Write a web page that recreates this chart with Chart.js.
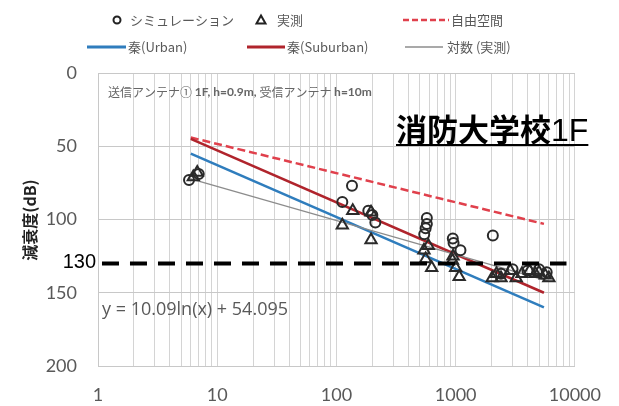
<!DOCTYPE html>
<html>
<head>
<meta charset="utf-8">
<script src="https://cdn.jsdelivr.net/npm/chart.js@4/dist/chart.umd.min.js"></script>
<style>
  html, body { margin: 0; padding: 0; background: #ffffff; }
  #wrap { width: 619px; height: 406px; position: relative; }
</style>
</head>
<body>
<div id="wrap"><canvas id="c" width="619" height="406"></canvas></div>
<script>
// Distance (m) and attenuation (dB) values
const simX  = [5.8, 7.0, 135, 112, 185, 200, 212, 573, 573, 560, 545, 946, 960, 1097, 2050, 2400, 3000, 4000, 5000, 5800];
const simY  = [73, 69, 77, 88, 94, 97, 102, 99, 103, 106, 110, 113, 116, 121, 111, 137, 134, 135, 134, 136];
const measX = [6.3, 6.8, 112, 137, 195, 195, 542, 590, 560, 629, 950, 940, 1000, 1070, 2025, 2200, 2400, 2870, 3220, 3600, 4170, 4660, 5000, 5630, 6050];
const measY = [71, 68, 104, 94, 95, 114, 121, 118, 127, 133, 125, 128, 133, 139, 140, 137, 140, 135, 140, 137, 135, 137, 136, 138, 140];

// Model curves (end points; straight on a log distance axis)
const modelX     = [6, 5500];
const freeSpaceY = [44, 103];
const urbanY     = [55, 160];
const suburbanY  = [45, 150];

// Logarithmic fit of the measurements
const trendX = [5.8, 6000];
const trendY = [72, 142];

// Threshold line
const limitX = [1.08, 8500];
const limitY = [130, 130];

// Axis tick labels
const xTickValues = [1, 10, 100, 1000, 10000];
const xTickLabels = ['1', '10', '100', '1000', '10000'];
const yTickValues = [0, 50, 100, 150, 200];

const pts = (xs, ys) => xs.map((x, i) => ({ x: x, y: ys[i] }));

const JP = '"Noto Sans CJK JP", "Noto Sans", sans-serif';
const NUM = 'Lato, "Open Sans", sans-serif';

const overlay = {
  id: 'overlay',
  afterDraw(chart) {
    const ctx = chart.ctx;
    ctx.save();
    ctx.textBaseline = 'middle';
    ctx.textAlign = 'left';

    // legend
    const r1 = 20, r2 = 47;
    ctx.font = '13px ' + JP;
    ctx.fillStyle = '#595959';
    ctx.strokeStyle = '#222';
    ctx.lineWidth = 2;
    ctx.beginPath(); ctx.arc(117, r1, 3.5, 0, Math.PI * 2); ctx.stroke();
    ctx.fillText('シミュレーション', 130, r1);
    ctx.beginPath();
    ctx.moveTo(261, r1 - 4.5); ctx.lineTo(265.5, r1 + 3.5); ctx.lineTo(256.5, r1 + 3.5); ctx.closePath();
    ctx.stroke();
    ctx.fillText('実測', 277, r1);
    ctx.strokeStyle = '#e0404c'; ctx.lineWidth = 2.5; ctx.setLineDash([6, 3]);
    ctx.beginPath(); ctx.moveTo(403, r1); ctx.lineTo(449, r1); ctx.stroke();
    ctx.setLineDash([]);
    ctx.fillText('自由空間', 451, r1);

    ctx.strokeStyle = '#2f7dbd'; ctx.lineWidth = 3;
    ctx.beginPath(); ctx.moveTo(87, r2); ctx.lineTo(126, r2); ctx.stroke();
    ctx.fillText('秦(Urban)', 128, r2);
    ctx.strokeStyle = '#b0242c';
    ctx.beginPath(); ctx.moveTo(247, r2); ctx.lineTo(285, r2); ctx.stroke();
    ctx.fillText('秦(Suburban)', 287, r2);
    ctx.strokeStyle = '#8c8c8c'; ctx.lineWidth = 1.5;
    ctx.beginPath(); ctx.moveTo(405, r2); ctx.lineTo(443, r2); ctx.stroke();
    ctx.fillText('対数 (実測)', 447, r2);

    // y axis title
    ctx.save();
    ctx.translate(30, 220);
    ctx.rotate(-Math.PI / 2);
    ctx.textAlign = 'center';
    ctx.fillStyle = '#222';
    ctx.font = 'bold 16px ' + JP;
    ctx.fillText('減衰度(dB)', 0, 0);
    ctx.restore();

    // antenna conditions
    const parts = [
      ['送信アンテナ① ', '12px ' + JP],
      ['1F, h=0.9m, ', 'bold 12px ' + NUM],
      ['受信アンテナ ', '12px ' + JP],
      ['h=10m', 'bold 12px ' + NUM]
    ];
    let x = 108;
    ctx.fillStyle = '#666';
    parts.forEach(p => {
      ctx.font = p[1];
      ctx.fillText(p[0], x, 92);
      x += ctx.measureText(p[0]).width;
    });

    // site name
    ctx.fillStyle = '#000';
    ctx.textBaseline = 'alphabetic';
    ctx.font = 'bold 31px ' + JP;
    const a = '消防大学校';
    ctx.fillText(a, 396, 141);
    const wa = ctx.measureText(a).width;
    ctx.font = '32px "Liberation Sans", Arial, sans-serif';
    ctx.fillText('1F', 396 + wa, 141);
    const wb = ctx.measureText('1F').width;
    ctx.fillRect(396, 144, wa + wb, 2);

    // threshold label
    ctx.textBaseline = 'middle';
    ctx.textAlign = 'right';
    ctx.font = '20px "Liberation Sans", Arial, sans-serif';
    ctx.fillText('130', 96, 262);

    // fit equation
    ctx.textAlign = 'left';
    ctx.fillStyle = '#595959';
    ctx.font = '18px "Open Sans", Lato, sans-serif';
    ctx.fillText('y = 10.09ln(x) + 54.095', 102, 310);

    ctx.restore();
  }
};

new Chart(document.getElementById('c'), {
  type: 'scatter',
  data: {
    datasets: [
      { label: 'limit', data: pts(limitX, limitY), showLine: true, borderColor: '#000', borderWidth: 4,
        borderDash: [17, 11], pointRadius: 0, fill: false },
      { label: 'シミュレーション', data: pts(simX, simY), pointStyle: 'circle', pointRadius: 5,
        borderColor: '#2a2a2a', backgroundColor: 'rgba(0,0,0,0)', borderWidth: 2, showLine: false },
      { label: '実測', data: pts(measX, measY), pointStyle: 'triangle', pointRadius: 6.5,
        borderColor: '#2a2a2a', backgroundColor: 'rgba(0,0,0,0)', borderWidth: 2, showLine: false },
      { label: '対数 (実測)', data: pts(trendX, trendY), showLine: true, borderColor: '#8c8c8c', borderWidth: 1.3,
        pointRadius: 0, fill: false },
      { label: '秦(Urban)', data: pts(modelX, urbanY), showLine: true, borderColor: '#2f7dbd', borderWidth: 2.6,
        pointRadius: 0, fill: false },
      { label: '秦(Suburban)', data: pts(modelX, suburbanY), showLine: true, borderColor: '#b0242c', borderWidth: 2.6,
        pointRadius: 0, fill: false },
      { label: '自由空間', data: pts(modelX, freeSpaceY), showLine: true, borderColor: '#e0404c', borderWidth: 2.5,
        borderDash: [8, 4], pointRadius: 0, fill: false }
    ]
  },
  options: {
    responsive: false,
    animation: false,
    layout: { padding: { top: 73, right: 27, left: 0, bottom: 0 } },
    plugins: { legend: { display: false }, tooltip: { enabled: false } },
    scales: {
      x: {
        type: 'logarithmic',
        min: 1, max: 10000,
        afterFit(s) { s.height = 40; },
        afterBuildTicks(s) {
          const t = [];
          for (let d = 1; d < 10000; d *= 10) {
            for (let k = 1; k < 10; k++) t.push({ value: k * d });
          }
          t.push({ value: 10000 });
          s.ticks = t;
        },
        grid: { color: '#d4d4d4', lineWidth: 1, drawTicks: false },
        border: { color: '#c8c8c8' },
        ticks: {
          padding: 18, color: '#595959', font: { family: NUM, size: 18 }, maxRotation: 0, autoSkip: false,
          callback(v) { const i = xTickValues.indexOf(v); return i >= 0 ? xTickLabels[i] : ''; }
        }
      },
      y: {
        type: 'linear',
        reverse: true,
        min: 0, max: 200,
        afterFit(s) { s.width = 98; },
        afterBuildTicks(s) { s.ticks = yTickValues.map(v => ({ value: v })); },
        grid: { color: '#c8c8c8', lineWidth: 1, drawTicks: false },
        border: { color: '#c8c8c8' },
        ticks: { padding: 21, color: '#595959', font: { family: NUM, size: 18 } }
      }
    }
  },
  plugins: [overlay]
});
</script>
</body>
</html>
